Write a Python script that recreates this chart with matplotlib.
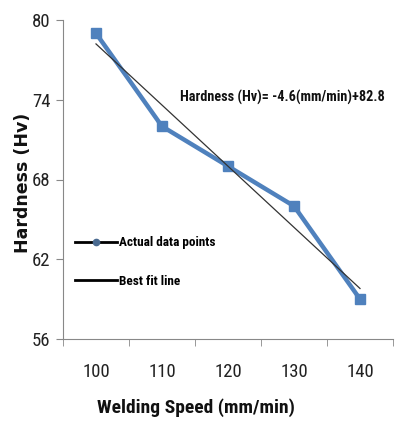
import numpy as np
import matplotlib.pyplot as plt
from matplotlib.lines import Line2D

speeds = ["100", "110", "120", "130", "140"]
hardness = [79, 72, 69, 66, 59]
fit_slope = -4.6
fit_intercept = 82.8
y_ticks = [56, 62, 68, 74, 80]

cond = "Roboto Condensed"

fig = plt.figure(figsize=(3.95, 4.22), dpi=100)
ax = fig.add_axes([63 / 395, 1 - 339 / 422, 330 / 395, 319 / 422])

pos = np.arange(len(speeds))
fit = fit_slope * (pos + 1) + fit_intercept  # equation is on category index 1..5

ax.plot(pos, hardness, color="#4F81BD", lw=3.2, marker="s", ms=6.5, zorder=2)
ax.plot(pos, fit, color="#333333", lw=0.9, zorder=3)

ax.set_xlim(-0.5, len(speeds) - 0.5)
ax.set_ylim(56, 80)
ax.set_yticks(y_ticks)
ax.set_xticks(pos)
ax.set_xticklabels(speeds)
ax.set_xticks(np.arange(-0.5, len(speeds)), minor=True)
ax.tick_params(axis="x", which="major", length=0, pad=17)
ax.tick_params(axis="x", which="minor", length=5, color="#888888")
ax.tick_params(axis="y", length=5, color="#888888", pad=4)
for lab in ax.get_xticklabels() + ax.get_yticklabels():
    lab.set_fontfamily(cond)
    lab.set_fontsize(13.5)
    lab.set_color("#222222")

for s in ["top", "right"]:
    ax.spines[s].set_visible(False)
for s in ["left", "bottom"]:
    ax.spines[s].set_color("#888888")

fig.text(196 / 395, 1 - 408 / 422, "Welding Speed (mm/min)", family=cond,
         fontsize=14, fontweight="bold", ha="center", va="center", color="#111111")
fig.text(23 / 395, 1 - 183 / 422, "Hardness (Hv)", family="DejaVu Sans",
         fontsize=12.5, fontweight="bold", rotation=90, ha="center", va="center",
         color="#111111")

fig.text(180 / 395, 1 - 97 / 422, "Hardness (Hv)= -4.6(mm/min)+82.8", family=cond,
         fontsize=10.3, fontweight="bold", va="center", color="#111111")

handles = [
    Line2D([], [], color="black", lw=2, marker="o", ms=4.5,
           markerfacecolor="#4A6A90", markeredgecolor="#4A6A90"),
    Line2D([], [], color="black", lw=2),
]
fig.legend(handles, ["Actual data points", "Best fit line"], loc="center left",
           bbox_to_anchor=(75 / 395, 1 - 262 / 422), frameon=False,
           prop={"family": cond, "size": 9.5, "weight": "bold"},
           handlelength=3.2, handletextpad=0.15, labelspacing=1.9, borderpad=0,
           borderaxespad=0)

fig.savefig("out.png", dpi=100)
